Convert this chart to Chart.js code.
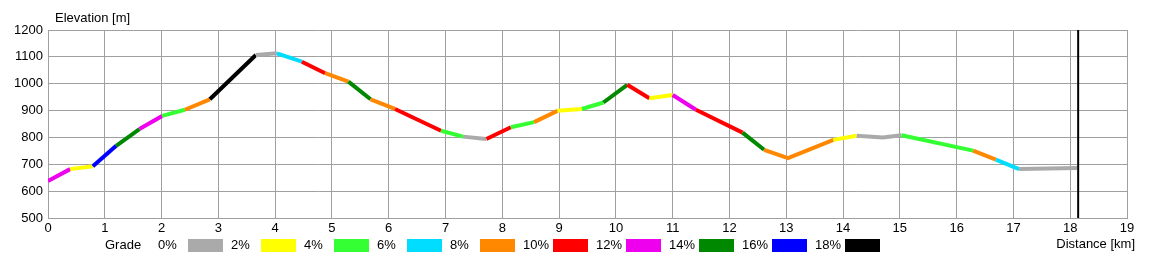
<!DOCTYPE html>
<html>
<head>
<meta charset="utf-8">
<title>Elevation profile</title>
<script src="https://cdn.jsdelivr.net/npm/chart.js@4/dist/chart.umd.min.js"></script>
<style>
  html, body { margin: 0; padding: 0; background: #fff; }
  #profile { display: block; }
</style>
</head>
<body>
<canvas id="profile" width="1161" height="258"></canvas>
<script>
  // ── Data ───────────────────────────────────────────────────────
  const distanceKm = [0, 0.39, 0.79, 1.2, 1.61, 2.01, 2.41, 2.85, 3.66, 4.03, 4.47, 4.88, 5.29, 5.68,
    6.11, 6.92, 7.31, 7.72, 8.15, 8.56, 8.97, 9.4, 9.78, 10.2, 10.59, 11.0, 11.41, 12.23, 12.61,
    13.03, 13.83, 14.24, 14.7, 15.03, 16.29, 16.69, 17.1, 18.12];
  const elevationM = [638, 682, 693, 769, 831, 880, 903, 942, 1107, 1113, 1082, 1039, 1008, 942,
    906, 825, 803, 794, 838, 857, 899, 906, 930, 996, 946, 958, 903, 818, 754,
    723, 791, 806, 800, 808, 751, 717, 682, 686];
  // grade class of each segment (index into gradeColors), one per point-to-point stretch
  const segmentGrade = [6, 1, 8, 7, 6, 2, 4, 9, 0, 3, 5, 4, 7, 4,
    5, 2, 0, 5, 2, 4, 1, 2, 7, 5, 1, 6, 5, 7, 4,
    4, 1, 0, 0, 2, 4, 3, 0];
  const routeEndKm = 18.14;

  const gradeLabels = ['0%', '2%', '4%', '6%', '8%', '10%', '12%', '14%', '16%', '18%'];
  const gradeColors = ['#aaaaaa', '#ffff00', '#33ff33', '#00ddff', '#ff8800',
    '#ff0000', '#ee00ee', '#008800', '#0000ff', '#000000'];

  const yTicks = [500, 600, 700, 800, 900, 1000, 1100, 1200];
  const xMax = 19;

  // ── Helpers ────────────────────────────────────────────────────
  const FAMILY = '"Liberation Sans", Arial, sans-serif';
  const FONT = '13px ' + FAMILY;
  const GRID = '#a0a0a0';

  // titles + grade legend, drawn straight on the canvas
  const decorations = {
    id: 'decorations',
    afterDraw(chart) {
      const c = chart.ctx;
      c.save();
      c.font = FONT;
      c.fillStyle = '#000';
      c.textBaseline = 'middle';

      c.textAlign = 'left';
      c.fillText('Elevation [m]', 55, 18);

      c.textAlign = 'right';
      c.fillText('Distance [km]', 1135, 244);

      c.textAlign = 'left';
      c.fillText('Grade', 105, 245);
      gradeLabels.forEach((lbl, i) => {
        const bx = 188 + i * 73;
        c.fillStyle = '#000';
        c.fillText(lbl, bx - 30, 245);
        c.fillStyle = gradeColors[i];
        c.fillRect(bx, 239, 35, 13);
      });
      c.restore();
    },
  };

  // ── Chart ──────────────────────────────────────────────────────
  const points = distanceKm.map((x, i) => ({ x, y: elevationM[i] }));

  new Chart(document.getElementById('profile').getContext('2d'), {
    type: 'line',
    data: {
      datasets: [
        {
          data: points,
          borderWidth: 4,
          pointRadius: 0,
          tension: 0,
          borderCapStyle: 'butt',
          segment: {
            borderColor: ctx => gradeColors[segmentGrade[ctx.p0DataIndex]],
          },
          order: 2,
        },
        {
          data: [{ x: routeEndKm, y: yTicks[0] }, { x: routeEndKm, y: yTicks[yTicks.length - 1] }],
          borderColor: '#000',
          borderWidth: 2,
          pointRadius: 0,
          order: 1,
        },
      ],
    },
    options: {
      responsive: false,
      devicePixelRatio: 1,
      animation: false,
      events: [],
      layout: { padding: { left: 0, right: 34, top: 30, bottom: 0 } },
      plugins: {
        legend: { display: false },
        tooltip: { enabled: false },
      },
      scales: {
        x: {
          type: 'linear',
          min: 0,
          max: xMax,
          afterFit: s => { s.height = 40; },
          ticks: {
            stepSize: 1,
            color: '#000',
            font: { family: FAMILY, size: 13 },
            padding: 3,
            maxRotation: 0,
            autoSkip: false,
            callback: v => String(v),
          },
          grid: { color: GRID, lineWidth: 1, drawTicks: false },
          border: { color: GRID },
        },
        y: {
          min: yTicks[0],
          max: yTicks[yTicks.length - 1],
          afterFit: s => { s.width = 48; },
          afterBuildTicks: s => { s.ticks = yTicks.map(v => ({ value: v })); },
          ticks: {
            color: '#000',
            font: { family: FAMILY, size: 13 },
            padding: 5,
            callback: v => String(v),
          },
          grid: { color: GRID, lineWidth: 1, drawTicks: false },
          border: { color: GRID },
        },
      },
    },
    plugins: [decorations],
  });
</script>
</body>
</html>
